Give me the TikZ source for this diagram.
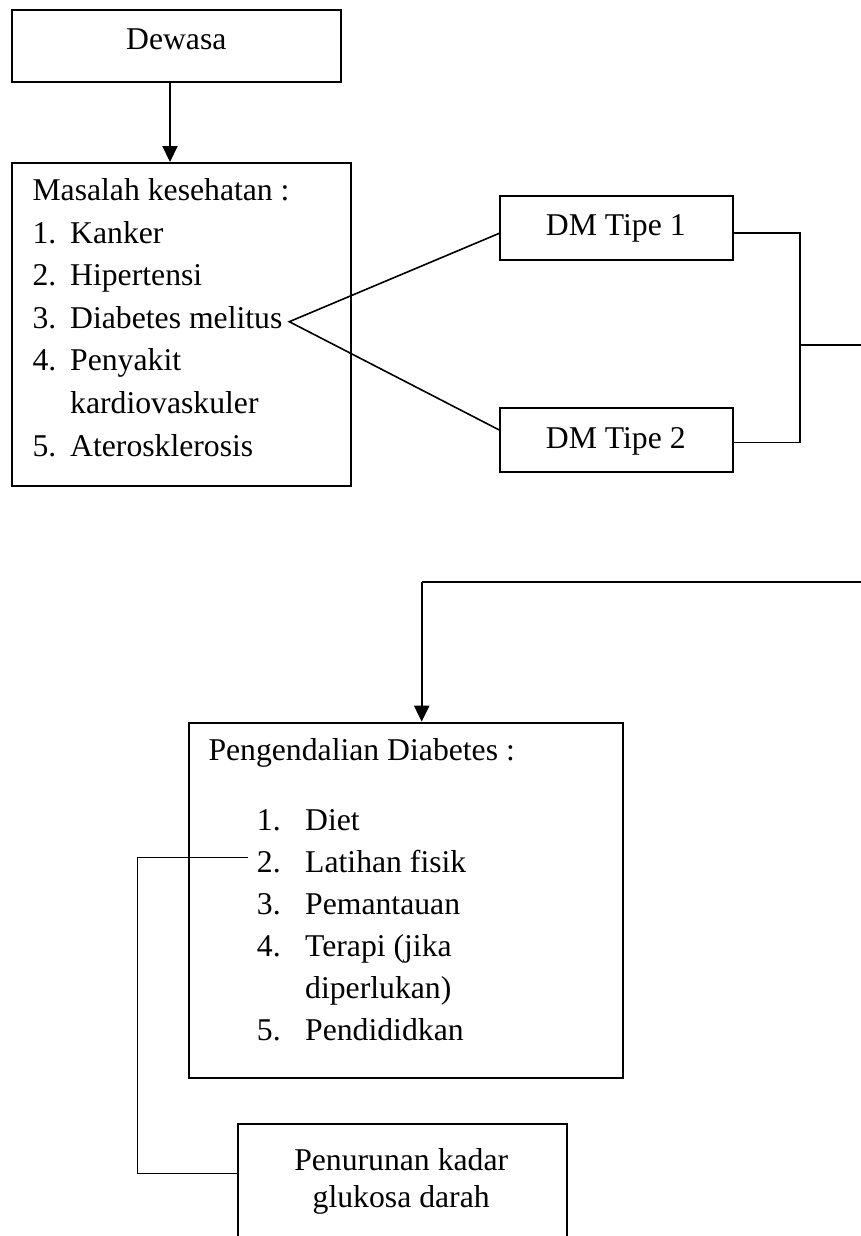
\documentclass[tikz,border=0pt]{standalone}
\usepackage{fontspec}
\setmainfont{Liberation Serif}
\usetikzlibrary{arrows.meta}
\tikzset{
  box/.style={draw, line width=1.8pt, inner sep=0pt, anchor=north west},
  txt/.style={inner sep=0pt, font=\fontsize{31.7}{38}\selectfont},
  conn/.style={line width=1.6pt},
  arr/.style={line width=2.2pt, -{Triangle[length=16pt,width=15pt]}}
}
\newcommand{\itm}[2]{\makebox[#1][l]{#2}}
\begin{document}
\begin{tikzpicture}[x=1pt,y=-1pt]
\useasboundingbox (0,0) rectangle (861,1236);
\clip (0,0) rectangle (861,1236);
\fill[white] (0,0) rectangle (861,1236);
% boxes
\node[box, minimum width=329pt, minimum height=72pt] (dewasa) at (11,9) {};
\node[box, minimum width=339pt, minimum height=323pt] (masalah) at (11,162) {};
\node[box, minimum width=233pt, minimum height=64.3pt] (dm1) at (499.3,195) {};
\node[box, minimum width=233pt, minimum height=63.4pt] (dm2) at (499.3,407.3) {};
\node[box, minimum width=434pt, minimum height=355pt] (peng) at (188.3,721.7) {};
\node[box, minimum width=329pt, minimum height=140pt] (pen) at (236.7,1123.3) {};
% texts
\node[txt, anchor=base] (tdewasa) at (176.3,49.3) {Dewasa};
\node[txt, anchor=base west] (m0) at (32.3,200.7) {Masalah kesehatan :};
\node[txt, anchor=base west] (m1) at (32.3,243.3) {\itm{37.7pt}{1.}Kanker};
\node[txt, anchor=base west] (m2) at (32.3,285.8) {\itm{37.7pt}{2.}Hipertensi};
\node[txt, anchor=base west] (m3) at (32.3,328.3) {\itm{37.7pt}{3.}Diabetes melitus};
\node[txt, anchor=base west] (m4) at (32.3,370.9) {\itm{37.7pt}{4.}Penyakit};
\node[txt, anchor=base west] (m4b) at (70,413.4) {kardiovaskuler};
\node[txt, anchor=base west] (m5) at (32.3,456) {\itm{37.7pt}{5.}Aterosklerosis};
\node[txt, anchor=base] (tdm1) at (615.8,235) {DM Tipe 1};
\node[txt, anchor=base] (tdm2) at (615.8,448.3) {DM Tipe 2};
\node[txt, anchor=base west] (p0) at (208.3,760) {Pengendalian Diabetes :};
\node[txt, anchor=base west] (p1) at (256.7,830) {\itm{48.3pt}{1.}Diet};
\node[txt, anchor=base west] (p2) at (256.7,872) {\itm{48.3pt}{2.}Latihan fisik};
\node[txt, anchor=base west] (p3) at (256.7,914) {\itm{48.3pt}{3.}Pemantauan};
\node[txt, anchor=base west] (p4) at (256.7,956) {\itm{48.3pt}{4.}Terapi (jika};
\node[txt, anchor=base west] (p4b) at (305,998) {diperlukan)};
\node[txt, anchor=base west] (p5) at (256.7,1040) {\itm{48.3pt}{5.}Pendididkan};
\node[txt, anchor=base] (q1) at (401.2,1170) {Penurunan kadar};
\node[txt, anchor=base] (q2) at (401.2,1207.7) {glukosa darah};
% coordinates
\coordinate (ax1) at (170,0);
\coordinate (dmv) at (289.3,321.7);
\coordinate (u1) at (0,233.3);
\coordinate (u2) at (0,430);
\coordinate (c1) at (800,232.7);
\coordinate (c2) at (800,442.3);
\coordinate (c3) at (800,345);
\coordinate (c4) at (870,345);
\coordinate (r1) at (870,581.7);
\coordinate (ax2) at (421.7,581.7);
\coordinate (lf) at (248.3,857.3);
\coordinate (lb) at (137.3,1173.3);
% connectors
\draw[arr] (dewasa.south -| ax1) -- (masalah.north -| ax1);
\draw[conn] (dm1.west |- u1) -- (dmv) -- (dm2.west |- u2);
\draw[conn] (dm1.east |- c1) -- (c1) -- (c2) -- (dm2.east |- c2);
\draw[conn] (c3) -- (c4);
\draw[conn] (r1) -- (ax2);
\draw[arr] (ax2) -- (peng.north -| ax2);
\draw[conn] (lf) -| (lb) -- (pen.west |- lb);
\end{tikzpicture}
\end{document}
